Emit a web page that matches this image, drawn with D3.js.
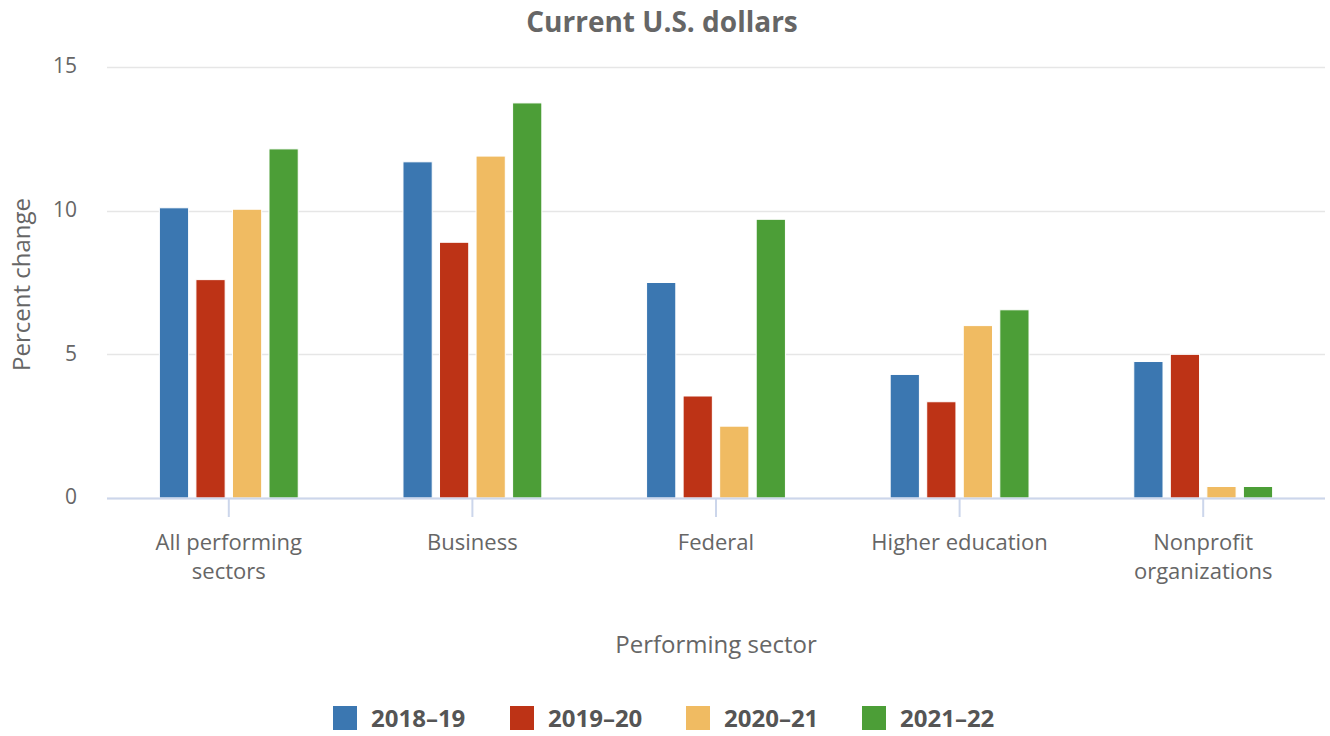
<!DOCTYPE html>
<html>
<head>
<meta charset="utf-8">
<script src="https://cdn.jsdelivr.net/npm/d3@7"></script>
<style>
  body { margin: 0; background: #fff; }
  svg text { font-family: "Open Sans", sans-serif; }
</style>
</head>
<body>
<div id="chart"></div>
<script>
// chart data
var categories = [["All performing", "sectors"], ["Business"], ["Federal"], ["Higher education"], ["Nonprofit", "organizations"]];
var seriesNames = ["2018\u201319", "2019\u201320", "2020\u201321", "2021\u201322"];
var colors = ["#3b77b1", "#bd3316", "#f0bb62", "#4c9e37"];
var values2018 = [10.1, 11.7, 7.5, 4.3, 4.75];
var values2019 = [7.6, 8.9, 3.55, 3.35, 5.0];
var values2020 = [10.05, 11.9, 2.5, 6.0, 0.4];
var values2021 = [12.15, 13.75, 9.7, 6.55, 0.4];
var yTicks = [0, 5, 10, 15];

var seriesValues = [values2018, values2019, values2020, values2021];

var width = 1330, height = 736;
var margin = { top: 67, right: 5, bottom: 238, left: 107 };
var plotW = width - margin.left - margin.right,
    plotH = height - margin.top - margin.bottom;

var svg = d3.select("#chart").append("svg")
    .attr("width", width)
    .attr("height", height);

var g = svg.append("g")
    .attr("transform", "translate(" + margin.left + "," + margin.top + ")");

// scales
var x = d3.scaleBand()
    .domain(d3.range(categories.length))
    .range([0, plotW]);

var xInner = d3.scaleBand()
    .domain(d3.range(seriesNames.length))
    .range([x.bandwidth() * 0.2, x.bandwidth() * 0.8])
    .paddingInner(0.2)
    .paddingOuter(0.1);

var y = d3.scaleLinear()
    .domain([0, 15])
    .range([plotH, 0]);

// gridlines
g.selectAll(".grid")
    .data(yTicks)
    .enter().append("line")
    .attr("class", "grid")
    .attr("x1", 0)
    .attr("x2", plotW)
    .attr("y1", function(d){ return Math.round(y(d)) + 0.5; })
    .attr("y2", function(d){ return Math.round(y(d)) + 0.5; })
    .attr("stroke", "#e6e6e6")
    .attr("stroke-width", 1.5);

// y tick labels
g.selectAll(".ylab")
    .data(yTicks)
    .enter().append("text")
    .attr("x", -30)
    .attr("y", function(d){ return y(d); })
    .attr("dy", "0.3em")
    .attr("text-anchor", "end")
    .attr("fill", "#666")
    .style("font-size", "21px")
    .text(function(d){ return d; });

// bars
var groups = g.selectAll(".group")
    .data(categories)
    .enter().append("g")
    .attr("class", "group")
    .attr("transform", function(d, i){ return "translate(" + x(i) + ",0)"; });

groups.selectAll("rect")
    .data(function(d, i){
        return seriesValues.map(function(vals, s){ return { s: s, v: vals[i] }; });
    })
    .enter().append("rect")
    .attr("x", function(d){ return xInner(d.s); })
    .attr("width", xInner.bandwidth())
    .attr("y", function(d){ return y(d.v); })
    .attr("height", function(d){ return plotH - y(d.v); })
    .attr("fill", function(d){ return colors[d.s]; })
    .attr("stroke", "#fff")
    .attr("stroke-width", 1);

// x axis line and ticks
g.append("line")
    .attr("x1", 0).attr("x2", plotW)
    .attr("y1", plotH + 0.5).attr("y2", plotH + 0.5)
    .attr("stroke", "#ccd6eb").attr("stroke-width", 2);

groups.append("line")
    .attr("x1", x.bandwidth() / 2).attr("x2", x.bandwidth() / 2)
    .attr("y1", plotH).attr("y2", plotH + 19)
    .attr("stroke", "#ccd6eb").attr("stroke-width", 2);

groups.append("text")
    .attr("x", x.bandwidth() / 2)
    .attr("y", plotH + 52)
    .attr("text-anchor", "middle")
    .attr("fill", "#666")
    .style("font-size", "22px")
    .selectAll("tspan")
    .data(function(d){ return d; })
    .enter().append("tspan")
    .attr("x", x.bandwidth() / 2)
    .attr("dy", function(d, i){ return i === 0 ? 0 : 29; })
    .text(function(d){ return d; });

// axis titles
svg.append("text")
    .attr("x", margin.left + plotW / 2)
    .attr("y", 653)
    .attr("text-anchor", "middle")
    .attr("fill", "#666")
    .style("font-size", "24px")
    .text("Performing sector");

svg.append("text")
    .attr("transform", "translate(30," + (margin.top + plotH / 2 + 2) + ") rotate(-90)")
    .attr("text-anchor", "middle")
    .attr("fill", "#666")
    .style("font-size", "24px")
    .text("Percent change");

// title
svg.append("text")
    .attr("x", 662)
    .attr("y", 32)
    .attr("text-anchor", "middle")
    .attr("fill", "#666")
    .style("font-size", "28px")
    .style("font-weight", "bold")
    .text("Current U.S. dollars");

// legend
var legendX = [333, 510, 686, 862];
var legend = svg.selectAll(".legend")
    .data(seriesNames)
    .enter().append("g")
    .attr("class", "legend")
    .attr("transform", function(d, i){ return "translate(" + legendX[i] + ",706)"; });

legend.append("rect")
    .attr("width", 24).attr("height", 24)
    .attr("fill", function(d, i){ return colors[i]; });

legend.append("text")
    .attr("x", 38)
    .attr("y", 21)
    .attr("fill", "#555")
    .style("font-size", "24px")
    .style("font-weight", "bold")
    .text(function(d){ return d; });
</script>
</body>
</html>
